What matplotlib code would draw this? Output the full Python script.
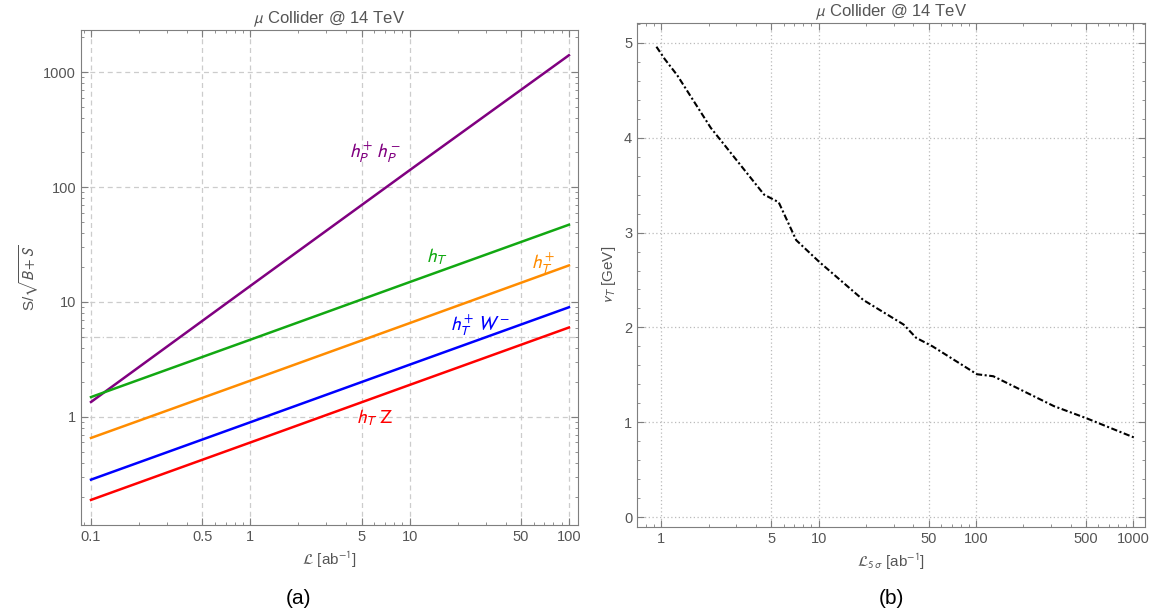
import matplotlib
matplotlib.use('Agg')
import matplotlib.pyplot as plt
import matplotlib.ticker as mticker
import numpy as np

plt.rcParams['font.family'] = ['Liberation Sans', 'DejaVu Sans']
plt.rcParams['mathtext.fontset'] = 'stixsans'

# panel (a): significance vs luminosity
lumi = [0.1, 1, 10, 100]
sig_hphm = [1.35, 13.8, 140, 1400]
sig_hT = [1.49, 4.7, 14.9, 47]
sig_hTp = [0.657, 2.07, 6.55, 20.8]
sig_hTW = [0.285, 0.9, 2.85, 9.0]
sig_hTZ = [0.19, 0.6, 1.9, 6.0]

labels_a = [r'$h_P^{+}\ h_P^{-}$', r'$h_T$', r'$h_T^{+}$', r'$h_T^{+}\ W^{-}$', r'$h_T\ \mathrm{Z}$']
label_pos = [(6.0, 200), (14.9, 24.6), (69, 21.8), (27.5, 6.3), (6.0, 0.99)]

# panel (b): v_T reach vs 5 sigma luminosity
lumi5 = [0.93, 1.05, 1.26, 2.06, 4.5, 5.57, 7.2, 10.1, 19.2, 34.7, 41.7, 53,
         101.5, 129, 313, 508, 1009]
vT = [4.96, 4.83, 4.66, 4.105, 3.40, 3.32, 2.92, 2.69, 2.29, 2.03, 1.89, 1.80,
      1.506, 1.485, 1.17, 1.04, 0.84]

colors = ['#800080', '#12a812', '#ff8c00', '#0000ff', '#ff0000']
gray = '#7f7f7f'
tgray = '#555555'

fig = plt.figure(figsize=(11.53, 6.14), dpi=100)
ax1 = fig.add_axes([0.0703, 0.145, 0.431, 0.806])
ax2 = fig.add_axes([0.5525, 0.1417, 0.4406, 0.8208])


def style(ax):
    for s in ax.spines.values():
        s.set_color(gray)
    ax.tick_params(which='both', direction='in', top=True, right=True,
                   colors=gray, labelcolor=tgray, labelsize=10.5)
    ax.tick_params(which='major', length=5)
    ax.tick_params(which='minor', length=2.5)


series = [sig_hphm, sig_hT, sig_hTp, sig_hTW, sig_hTZ]
for vals, c in zip(series, colors):
    ax1.plot(lumi, vals, color=c, lw=1.8)
for lab, (x, y), c in zip(labels_a, label_pos, colors):
    ax1.text(x, y, lab, color=c, fontsize=14, ha='center', va='center')

ax1.set_xscale('log')
ax1.set_yscale('log')
ax1.set_xlim(0.0866, 114)
ax1.set_ylim(0.115, 2317)
xt = [0.1, 0.5, 1, 5, 10, 50, 100]
ax1.set_xticks(xt)
ax1.set_xticklabels(['0.1', '0.5', '1', '5', '10', '50', '100'])
ax1.set_yticks([1, 10, 100, 1000])
ax1.set_yticklabels(['1', '10', '100', '1000'])
ax1.xaxis.set_minor_locator(mticker.LogLocator(base=10, subs=np.arange(2, 10)))
ax1.yaxis.set_minor_locator(mticker.LogLocator(base=10, subs=np.arange(2, 10)))
ax1.xaxis.set_minor_formatter(mticker.NullFormatter())
ax1.yaxis.set_minor_formatter(mticker.NullFormatter())
for x in xt:
    ax1.axvline(x, color='#cccccc', ls=(0, (4, 3)), lw=0.9, zorder=0)
for y in [1, 10, 100, 1000]:
    ax1.axhline(y, color='#cccccc', ls=(0, (4, 3)), lw=0.9, zorder=0)
ax1.axhline(5, color='#cccccc', ls=(0, (5, 2, 1, 2)), lw=0.9, zorder=0)
style(ax1)
ax1.set_title(r'$\mu$ Collider @ 14 TeV', color=tgray, fontsize=12, pad=5)
ax1.set_xlabel(r'$\mathcal{L}$ [ab$^{-1}$]', color=tgray, fontsize=11)
ax1.set_ylabel(r'S/$\sqrt{B+S}$', color=tgray, fontsize=11, labelpad=2)

ax2.plot(lumi5, vT, color='black', lw=1.5, ls=(0, (3, 1.2, 1, 1.2)))
ax2.set_xscale('log')
ax2.set_xlim(0.70, 1190)
ax2.set_ylim(-0.105, 5.21)
xt2 = [1, 5, 10, 50, 100, 500, 1000]
ax2.set_xticks(xt2)
ax2.set_xticklabels(['1', '5', '10', '50', '100', '500', '1000'])
ax2.set_yticks([0, 1, 2, 3, 4, 5])
ax2.xaxis.set_minor_locator(mticker.LogLocator(base=10, subs=np.arange(2, 10)))
ax2.xaxis.set_minor_formatter(mticker.NullFormatter())
ax2.yaxis.set_minor_locator(mticker.MultipleLocator(0.2))
for x in xt2:
    ax2.axvline(x, color='#bbbbbb', ls=(0, (1, 2)), lw=0.9, zorder=0)
for y in range(6):
    ax2.axhline(y, color='#bbbbbb', ls=(0, (1, 2)), lw=0.9, zorder=0)
style(ax2)
ax2.set_title(r'$\mu$ Collider @ 14 TeV', color=tgray, fontsize=12, pad=5)
ax2.set_xlabel(r'$\mathcal{L}_{5\,\sigma}$ [ab$^{-1}$]', color=tgray, fontsize=11)
ax2.set_ylabel(r'$v_T$ [GeV]', color=tgray, fontsize=11, labelpad=4)

fig.text(0.259, 0.026, '(a)', fontsize=15, ha='center', va='center')
fig.text(0.773, 0.026, '(b)', fontsize=15, ha='center', va='center')

fig.savefig('out.png', dpi=100)
